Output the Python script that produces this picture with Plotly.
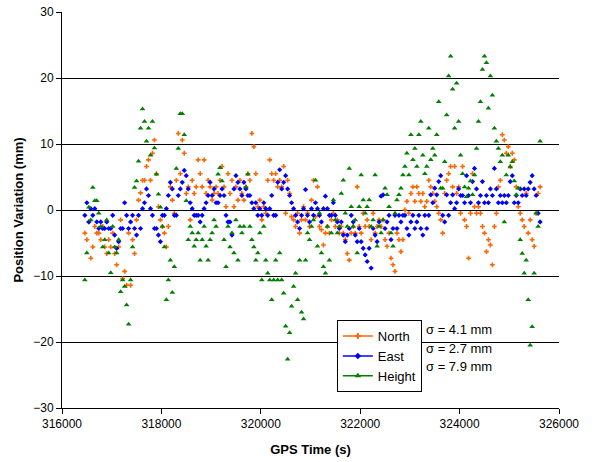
import plotly.graph_objects as go

# GPS epochs (regular 40 s sampling)
EPOCH_START = 316460
EPOCH_STEP = 40

NORTH = [
    -3.5, -4.5, -1.8, -7.3, -5.6, -2.5, -3.5, -3.5, -4.5, -2.5,
    -5.6, -6.6, -4.5, -5.6, -3.5, -6.6, -8.3, -5.6, -1.5, -10.4,
    -9.3, -11.4, -3.5, -11.4, -4.5, -6.6, -1.5, 1.5, 2.6, 4.5,
    4.5, 6.6, 7.6, 4.5, 8.6, 10.6, 5.5, 0.5, -1.5, -2.5,
    -3.5, -5.6, -2.5, 3.5, 1.5, -0.5, 4.5, 11.6, 5.5, 10.6,
    8.6, 2.5, 3.5, -1.5, 4.5, 2.5, 3.5, 7.6, 5.5, 3.5,
    7.6, 2.5, 4.5, 3.5, 1.5, 2.5, 3.5, 2.5, 4.5, 6.6,
    3.5, 0.5, 5.5, 2.5, 4.5, 0.5, 3.5, 1.5, 4.5, 2.5,
    1.5, 3.5, 5.5, 4.5, 11.6, 9.6, 5.5, 0.5, 1.5, -1.5,
    0.5, -0.5, 4.5, 7.6, 5.5, 4.5, 5.5, 3.5, 4.5, 3.5,
    6.6, -0.5, 4.5, 2.5, -1.0, -1.5, -2.5, -0.5, -3.5, -1.5,
    0.5, -1.5, -0.5, -2.5, 1.5, 4.5, -1.0, 3.5, -2.5, -3.0,
    -5.3, -3.5, -2.5, -3.5, -1.5, -0.5, -2.5, -1.5, -3.5, -2.5,
    -3.5, -4.5, -6.6, -7.6, -3.5, -2.5, -3.5, 3.5, -2.5, -3.5,
    -0.5, -2.5, -1.5, -2.5, -4.5, -0.5, -3.5, -2.5, -1.5, -2.5,
    -1.5, -4.5, -5.5, -3.5, -7.3, -8.3, -9.3, -3.5, -4.5, -6.3,
    -4.5, 0.0, 1.3, -0.5, 2.5, 3.5, 1.3, 3.5, 2.5, 1.3,
    2.5, 0.5, 1.3, 4.5, 3.5, 2.5, 1.3, 0.5, -0.5, -1.5,
    -3.5, 2.5, 4.5, 5.5, 6.6, 3.5, 6.6, 2.5, 3.5, -0.5,
    6.6, -1.5, -2.5, -7.3, -0.5, 5.5, 0.5, -0.5, 0.5, -0.5,
    -2.5, -3.5, -6.3, -4.5, -5.3, -8.3, -2.5, -0.5, 3.5, 4.5,
    11.4, 10.6, 8.6, 9.6, 6.6, 8.6, 7.6, 3.5, 0.5, -0.5,
    -1.5, -2.5, 2.5, -3.5, -1.5, -4.5, -5.5, -0.5, 2.5, 3.5,
]

EAST = [
    -0.8, 1.1, -1.8, 0.2, -0.8, 0.2, -1.8, -2.8, -1.8, -2.8,
    -2.8, -1.8, -2.8, -2.8, -0.8, -3.8, -5.8, -4.8, -2.8, -2.8,
    1.1, -0.8, -2.8, -1.8, -0.8, -2.8, -3.8, -0.8, -2.8, 0.2,
    1.1, 3.2, 2.2, 0.2, -0.8, -2.8, -2.8, -3.8, -4.8, -0.8,
    -0.8, 0.2, 2.2, 4.2, 3.2, -0.8, -0.8, 2.2, 3.2, 4.2,
    6.0, 5.2, 3.2, 1.1, 0.2, -0.8, -0.8, -0.8, -1.8, -0.8,
    0.2, 1.1, 2.2, 4.2, 2.2, 3.2, 1.1, 1.1, 2.2, 3.2,
    2.2, -0.8, -1.8, -1.8, -3.8, 3.2, 5.2, 4.2, 3.2, 2.2,
    4.2, 3.2, 2.2, 2.2, 1.1, 0.2, 1.1, -0.8, 0.2, -0.8,
    1.1, 0.2, -0.8, 0.2, 2.2, -0.8, -0.8, 4.2, 6.1, 3.2,
    4.2, 5.2, 3.2, 2.2, 1.1, 0.2, -0.8, -1.8, -2.8, -0.8,
    0.2, 3.1, -0.8, -1.8, 0.2, -0.8, 1.1, 0.2, -0.8, -1.8,
    0.2, 2.1, 0.2, -0.8, -0.8, 1.1, -0.8, -1.8, -2.8, -1.8,
    -3.8, -4.8, -3.8, -2.8, -0.8, -1.8, -3.8, -4.8, -2.8, -4.8,
    -5.8, -6.8, -7.8, -5.8, -8.8, -2.8, -3.8, -4.8, -1.8, 2.1,
    2.3, -2.8, -1.8, -0.8, -4.5, -2.8, -0.8, -2.8, -0.8, -1.8,
    -0.8, -0.8, -2.8, -3.8, -1.8, -0.8, -2.8, -1.8, -0.8, -2.8,
    -3.8, -0.8, -2.8, -0.8, 2.3, 1.1, 3.3, 2.3, 4.3, 5.2,
    -0.8, -1.8, 2.3, -0.8, 1.1, 2.3, 0.2, 1.1, 3.2, 2.2,
    2.2, 1.1, 5.2, 2.2, 1.1, 4.3, 6.3, 3.2, 1.1, 2.2,
    4.3, 1.1, 2.2, 1.1, 3.2, 2.2, 6.3, 3.2, 1.1, 2.2,
    1.1, 2.2, 1.1, 2.2, 4.3, 5.2, 1.1, 2.2, 1.1, 3.2,
    2.2, 3.2, 2.2, 3.2, 4.2, 5.2, 3.2, 2.2, -0.5, -1.8,
]

HEIGHT = [
    -10.6, -6.5, 0.4, -1.5, 3.4, 1.4, 1.4, -0.5, -2.5, -5.6,
    -4.5, -1.5, -6.5, -9.5, -2.5, -5.6, -6.5, -4.5, -12.4, -10.6,
    -11.6, -14.4, -17.3, -10.6, -5.6, 3.4, 4.4, 7.4, 12.4, 15.3,
    13.4, 10.4, 12.4, 8.3, 13.4, 9.4, 5.4, 2.4, 0.4, -2.5,
    -5.6, -13.6, -10.6, -7.6, -12.5, -8.6, 6.3, 9.3, 14.6, 14.6,
    11.4, 1.4, -4.5, -2.5, -3.5, -5.5, -4.5, -3.5, -7.6, -4.5,
    -2.5, -5.5, -7.6, -4.5, -3.5, -1.5, -2.5, 5.4, 6.4, 4.4,
    -4.5, -8.6, -2.5, -5.6, -3.5, -6.5, -1.5, -7.6, -2.5, -3.5,
    -2.5, 3.5, 5.4, -2.5, -4.5, -5.6, -7.6, -6.5, -3.5, -10.6,
    -2.5, -7.6, -9.6, -10.6, -13.6, -10.6, -7.6, -10.6, -6.5, -10.6,
    -12.6, -17.6, -22.6, -18.6, -14.6, -11.6, -9.6, -13.6, -7.6, -15.5,
    -16.5, -7.6, -3.5, -4.5, -2.5, -1.5, 4.5, -5.5, -0.5, -6.5,
    -8.6, -9.6, -2.5, -7.6, -3.5, 1.5, -1.5, -3.5, -2.5, 2.5,
    4.5, -0.5, -2.5, 6.3, 0.5, -2.5, -1.5, -6.5, 0.5, 5.3,
    1.5, -0.5, 0.5, 1.5, -2.5, -1.5, 5.3, -5.5, -2.5, -3.5,
    -1.5, 3.3, 2.3, 0.5, -3.5, -5.5, -0.5, 1.5, 2.3, 3.3,
    5.3, 6.6, 8.6, 5.3, 11.4, 7.6, 9.3, 6.6, 11.4, 13.4,
    8.3, 5.5, 6.6, 12.4, 7.6, 9.3, 8.3, 11.4, 16.4, 3.3,
    3.3, 7.3, 14.4, 20.3, 23.3, 18.3, 12.4, 19.2, 13.4, 8.3,
    5.5, 3.5, 2.0, 3.3, 4.4, 2.3, 5.3, 9.3, 13.4, 16.4,
    21.3, 23.3, 22.3, 15.4, 20.3, 17.4, 12.4, 10.4, 9.3, 7.3,
    8.3, -1.8, 5.3, 8.3, 6.5, 7.3, 4.4, 2.3, 3.3, -4.5,
    -6.6, -9.6, -7.6, -13.6, -20.5, -17.7, -9.6, -0.5, -2.5, 10.4,
]

SERIES_NAMES = ["North", "East", "Height"]
SIGMA_LABELS = ["σ = 4.1 mm", "σ = 2.7 mm", "σ = 7.9 mm"]
X_TICKS = [316000, 318000, 320000, 322000, 324000, 326000]
Y_TICKS = [-30, -20, -10, 0, 10, 20, 30]

GPS_TIME = [EPOCH_START + EPOCH_STEP * i for i in range(len(NORTH))]

COLORS = ["#FF6600", "#0000FF", "#008000"]
SYMBOLS = ["cross", "diamond", "triangle-up"]
SIZES = [4, 4, 5]

FONT = "Liberation Sans, Arial, sans-serif"

fig = go.Figure()
for name, vals, col, sym, sz in zip(SERIES_NAMES, [NORTH, EAST, HEIGHT], COLORS, SYMBOLS, SIZES):
    fig.add_trace(go.Scatter(
        x=GPS_TIME, y=vals, mode="markers", name=name, showlegend=False,
        marker=dict(symbol=sym, size=sz, color=col, line=dict(width=0)),
    ))
# legend entries (line + marker, as in the original)
for name, col, sym, sz in zip(SERIES_NAMES, COLORS, SYMBOLS, SIZES):
    fig.add_trace(go.Scatter(
        x=[None], y=[None], mode="lines+markers", name=name,
        line=dict(color=col, width=1.5),
        marker=dict(symbol=sym, size=sz + 1, color=col, line=dict(width=0)),
    ))

for j, lab in enumerate(SIGMA_LABELS):
    fig.add_annotation(
        x=0.728, y=[0.197, 0.150, 0.104][j], xref="paper", yref="paper",
        text=lab, showarrow=False, xanchor="left", yanchor="middle",
        font=dict(size=13, color="black", family=FONT),
    )

fig.update_layout(
    width=602, height=462,
    margin=dict(l=62, r=43, t=12, b=54),
    paper_bgcolor="white", plot_bgcolor="white",
    font=dict(family=FONT, size=12, color="black"),
    legend=dict(
        x=0.553, y=0.222, xanchor="left", yanchor="top",
        bgcolor="white", bordercolor="black", borderwidth=1,
        font=dict(size=13), tracegroupgap=0, itemwidth=30,
    ),
    xaxis=dict(
        range=[316000, 326000], tickvals=X_TICKS, tickformat="d", automargin=False,
        showgrid=False, zeroline=False, showline=True, linecolor="black", linewidth=1,
        ticks="outside", ticklen=5, tickcolor="black",
        title=dict(text="<b>GPS Time (s)</b>", font=dict(size=13), standoff=14),
    ),
    yaxis=dict(
        range=[-30, 30], tickvals=Y_TICKS, automargin=False,
        showgrid=True, gridcolor="black", gridwidth=1, zeroline=False,
        showline=True, linecolor="black", linewidth=1,
        ticks="outside", ticklen=5, tickcolor="black",
        title=dict(text="<b>Position Variation (mm)</b>", font=dict(size=13), standoff=6),
    ),
)

fig.write_html(
    "out.html",
    config={"displayModeBar": False},
    post_script="document.body.style.margin='0';document.body.style.overflow='hidden';",
)
